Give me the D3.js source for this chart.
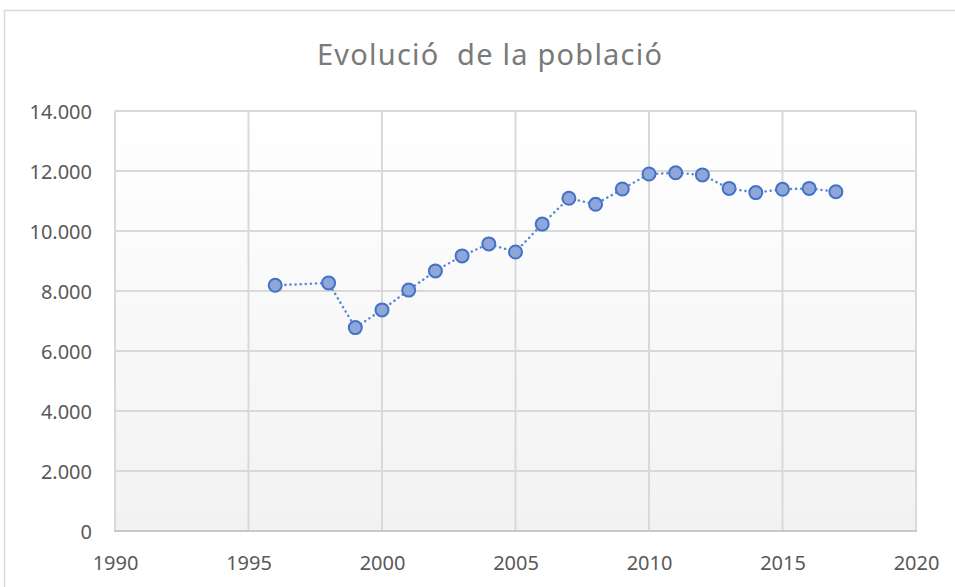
<!DOCTYPE html>
<html>
<head>
<meta charset="utf-8">
<script src="https://cdn.jsdelivr.net/npm/d3@7"></script>
<style>
  body { margin: 0; background: #fff; }
  svg text { font-family: "Noto Sans", "Open Sans", sans-serif; fill: #595959; }
</style>
</head>
<body>
<div id="chart"></div>
<script>
const years = [1996, 1998, 1999, 2000, 2001, 2002, 2003, 2004, 2005, 2006, 2007,
               2008, 2009, 2010, 2011, 2012, 2013, 2014, 2015, 2016, 2017];
const population = [8190, 8270, 6780, 7370, 8030, 8670, 9170, 9570, 9300, 10230, 11090,
                    10890, 11400, 11900, 11940, 11870, 11420, 11280, 11390, 11420, 11310];
const xTicks = [1990, 1995, 2000, 2005, 2010, 2015, 2020];
const yTicks = [0, 2000, 4000, 6000, 8000, 10000, 12000, 14000];
const title = 'Evolució  de la població';

const width = 955, height = 587;
const margin = { top: 111, right: 39, bottom: 56, left: 115 };

const svg = d3.select('#chart')
    .append('svg')
    .attr('width', width)
    .attr('height', height);

// outer chart frame
svg.append('rect')
    .attr('x', 4.5).attr('y', 10.5)
    .attr('width', 980).attr('height', 620)
    .attr('fill', '#fff')
    .attr('stroke', '#d9d9d9')
    .attr('stroke-width', 1.5);

const x = d3.scaleLinear()
    .domain([1990, 2020])
    .range([margin.left, width - margin.right]);

const y = d3.scaleLinear()
    .domain([0, 14000])
    .range([height - margin.bottom, margin.top]);

const grad = svg.append('defs').append('linearGradient')
    .attr('id', 'plotbg')
    .attr('x1', 0).attr('y1', 0).attr('x2', 0).attr('y2', 1);
grad.append('stop').attr('offset', '0%').attr('stop-color', '#ffffff');
grad.append('stop').attr('offset', '100%').attr('stop-color', '#f2f2f2');

svg.append('rect')
    .attr('x', x(1990)).attr('y', y(14000))
    .attr('width', x(2020) - x(1990))
    .attr('height', y(0) - y(14000))
    .attr('fill', 'url(#plotbg)');

// grid
svg.append('g')
    .selectAll('line')
    .data(yTicks)
    .enter()
    .append('line')
    .attr('x1', x(1990)).attr('x2', x(2020))
    .attr('y1', d => y(d)).attr('y2', d => y(d))
    .attr('stroke', '#d9d9d9')
    .attr('stroke-width', 2);

svg.append('g')
    .selectAll('line')
    .data(xTicks)
    .enter()
    .append('line')
    .attr('x1', d => x(d)).attr('x2', d => x(d))
    .attr('y1', y(0)).attr('y2', y(14000))
    .attr('stroke', '#d9d9d9')
    .attr('stroke-width', 2);

// bottom axis line
svg.append('line')
    .attr('x1', x(1990) - 1).attr('x2', x(2020) + 1)
    .attr('y1', y(0)).attr('y2', y(0))
    .attr('stroke', '#c8c8c8')
    .attr('stroke-width', 2);

// tick labels
const fmt = d3.formatLocale({ decimal: ',', thousands: '.', grouping: [3], currency: ['', ''] }).format(',');

const yAxis = svg.append('g')
    .attr('transform', `translate(${x(1990)},0)`)
    .call(d3.axisLeft(y).tickValues(yTicks).tickFormat(fmt).tickSize(0).tickPadding(23));
yAxis.select('.domain').remove();
yAxis.selectAll('text')
    .style('font-size', '20px')
    .attr('dy', '0.35em');

const xAxis = svg.append('g')
    .attr('transform', `translate(0,${y(0)})`)
    .call(d3.axisBottom(x).tickValues(xTicks).tickFormat(d3.format('d')).tickSize(0).tickPadding(25));
xAxis.select('.domain').remove();
xAxis.selectAll('text')
    .style('font-size', '20px');

// title
svg.append('text')
    .attr('x', 489.5)
    .attr('y', 65)
    .attr('text-anchor', 'middle')
    .attr('textLength', 345)
    .attr('lengthAdjust', 'spacing')
    .style('font-size', '29px')
    .style('fill', '#7a7a7a')
    .style('white-space', 'pre')
    .text(title);

// series
const data = years.map((yr, i) => ({ yr, v: population[i] }));

svg.append('path')
    .datum(data)
    .attr('d', d3.line().x(d => x(d.yr)).y(d => y(d.v)))
    .attr('fill', 'none')
    .attr('stroke', '#5b86d6')
    .attr('stroke-width', 2.5)
    .attr('stroke-dasharray', '0.1,5')
    .attr('stroke-linecap', 'round');

svg.selectAll('.pt')
    .data(data)
    .enter()
    .append('circle')
    .attr('class', 'pt')
    .attr('cx', d => x(d.yr))
    .attr('cy', d => y(d.v))
    .attr('r', 6.5)
    .attr('fill', '#8ea6da')
    .attr('stroke', '#4472c4')
    .attr('stroke-width', 2);
</script>
</body>
</html>
